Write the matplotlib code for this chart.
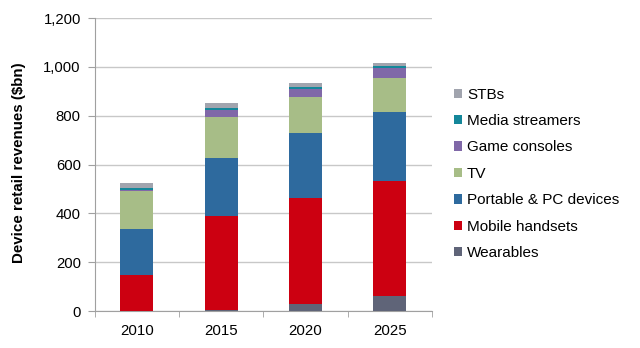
import matplotlib.pyplot as plt
import numpy as np

plt.rcParams['font.family'] = ['Liberation Sans', 'DejaVu Sans']

years = ['2010', '2015', '2020', '2025']
wearables = [0, 5, 29, 61]
mobile = [147, 385, 435, 473]
portable = [189, 235, 264, 281]
tv = [155, 171, 147, 141]
game = [5, 26, 33, 41]
media = [9, 8, 8, 5]
stbs = [20, 21, 18, 16]

series = [
    ('Wearables', wearables, '#5f6478'),
    ('Mobile handsets', mobile, '#cc0011'),
    ('Portable & PC devices', portable, '#2e6a9e'),
    ('TV', tv, '#a7bd87'),
    ('Game consoles', game, '#8068a8'),
    ('Media streamers', media, '#14879a'),
    ('STBs', stbs, '#a1a4ae'),
]

fig = plt.figure(figsize=(6.4, 3.48), dpi=100)
ax = fig.add_axes([0.148, 0.106, 0.527, 0.842])

x = np.arange(len(years))
bottom = np.zeros(len(years))
handles = []
for name, vals, col in series:
    b = ax.bar(x, vals, 0.39, bottom=bottom, color=col, label=name, zorder=3)
    bottom += np.array(vals)
    handles.append(b)

ax.set_xlim(-0.5, len(years) - 0.5)
ax.set_ylim(0, 1200)
ax.set_yticks(np.arange(0, 1201, 200))
ax.set_yticklabels(['{:,}'.format(v) for v in range(0, 1201, 200)], fontsize=10.7)
ax.set_xticks(x)
ax.set_xticklabels(years, fontsize=10.8)
ax.set_xticks(np.arange(-0.5, len(years), 1), minor=True)
ax.tick_params(axis='x', which='major', length=0, pad=9)
ax.tick_params(axis='x', which='minor', length=4, color='#a0a0a0', direction='out')
ax.tick_params(axis='y', length=5, color='#a0a0a0', pad=5)
ax.yaxis.grid(True, color='#c8c8c8', linewidth=1, zorder=0)
for s in ['top', 'right']:
    ax.spines[s].set_visible(False)
for s in ['left', 'bottom']:
    ax.spines[s].set_color('#a0a0a0')

ax.set_ylabel('Device retail revenues ($bn)', fontsize=10.9, fontweight='bold')
ax.yaxis.set_label_coords(-0.205, 0.507)

leg = fig.legend(handles[::-1], [s[0] for s in series][::-1], loc='upper left',
                 bbox_to_anchor=(0.688, 0.788), frameon=False, fontsize=11,
                 handlelength=0.55, handleheight=0.55, handletextpad=0.3,
                 labelspacing=0.815)

fig.savefig('out.png', dpi=100)
